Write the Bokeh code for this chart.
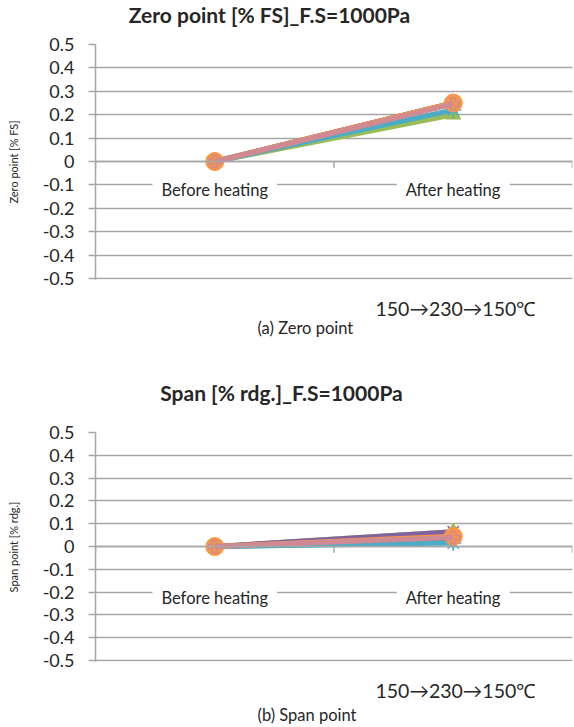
from bokeh.plotting import figure
from bokeh.layouts import column
from bokeh.models import Range1d, FixedTicker, Span
from bokeh.core.properties import value
from bokeh.embed import file_html
from bokeh.resources import INLINE

# ---------------- data ----------------
categories = ["Before heating", "After heating"]
y_ticks = [-0.5, -0.4, -0.3, -0.2, -0.1, 0, 0.1, 0.2, 0.3, 0.4, 0.5]
y_tick_labels = ["-0.5", "-0.4", "-0.3", "-0.2", "-0.1", "0", "0.1", "0.2", "0.3", "0.4", "0.5"]

# Zero point [% FS] per sensor
zero_s1 = [0.0, 0.21]
zero_s2 = [0.0, 0.25]
zero_s3 = [0.0, 0.20]
zero_s4 = [0.0, 0.25]
zero_s5 = [0.0, 0.22]
zero_s6 = [0.0, 0.25]
zero_s7 = [0.0, 0.245]

# Span [% rdg.] per sensor
span_s1 = [0.0, 0.02]
span_s2 = [0.0, 0.045]
span_s3 = [0.0, 0.065]
span_s4 = [0.0, 0.065]
span_s5 = [0.0, 0.015]
span_s6 = [0.0, 0.045]
span_s7 = [0.0, 0.04]

series_colors = ["#4F81BD", "#C0504D", "#9BBB59", "#8064A2", "#4BACC6", "#F79646", "#CF8A93"]
series_markers = ["diamond", "square", "triangle", "x", "asterisk", "circle", "plus"]
marker_sizes = [13, 12, 15, 16, 16, 18, 12]

FONT = "Lato"
TEXT = "#262626"
GRID = "#A6A6A6"
W = 574
LEFT = 95
RIGHT = 2


def text_strip(height, items):
    """A blank strip (page-pixel coordinates, y downward) that only carries text."""
    s = figure(width=W, height=height, output_backend="svg", toolbar_location=None,
               title=None, x_range=Range1d(LEFT, W - RIGHT), y_range=Range1d(height, 0),
               x_axis_location=None, y_axis_location=None,
               min_border_left=LEFT, min_border_right=RIGHT,
               min_border_top=0, min_border_bottom=0)
    s.outline_line_color = None
    s.xgrid.visible = False
    s.ygrid.visible = False
    for txt, x, y, align, size, style in items:
        s.text(x=[x], y=[y], text=[txt], text_align=align, text_baseline="middle",
               text_font=value(FONT), text_font_size=size, text_font_style=style,
               text_color=TEXT)
    return s


def make_chart(ylabel, series, frame_h, label_y):
    n = len(categories)
    xs = [i + 0.5 for i in range(n)]
    p = figure(width=W, height=frame_h + 20, output_backend="svg", toolbar_location=None,
               title=None, x_range=Range1d(0, n), y_range=Range1d(-0.504, 0.5),
               x_axis_location=None, min_border_left=LEFT, min_border_right=RIGHT,
               min_border_top=10, min_border_bottom=10)
    p.outline_line_color = None
    p.background_fill_color = "white"
    p.border_fill_color = "white"

    ax = p.yaxis[0]
    ax.ticker = FixedTicker(ticks=y_ticks)
    ax.major_label_overrides = {t: l for t, l in zip(y_ticks, y_tick_labels)}
    ax.major_label_text_font = FONT
    ax.major_label_text_font_size = "18px"
    ax.major_label_text_color = TEXT
    ax.major_label_standoff = 14
    ax.major_tick_out = 7
    ax.major_tick_in = 0
    ax.minor_tick_line_color = None
    ax.major_tick_line_color = GRID
    ax.major_tick_line_width = 1.5
    ax.axis_line_color = GRID
    ax.axis_line_width = 1.5
    ax.axis_label = ylabel
    ax.axis_label_text_font = FONT
    ax.axis_label_text_font_size = "11px"
    ax.axis_label_text_font_style = "normal"
    ax.axis_label_text_color = TEXT
    ax.axis_label_standoff = 20

    p.xgrid.visible = False
    p.ygrid.ticker = FixedTicker(ticks=y_ticks)
    p.ygrid.grid_line_color = GRID
    p.ygrid.grid_line_width = 1.5

    # category axis crossing at zero
    p.add_layout(Span(location=0, dimension="width", line_color=GRID, line_width=1.5))
    bounds = list(range(n + 1))
    p.segment(x0=bounds, x1=bounds, y0=[0] * (n + 1), y1=[-0.027] * (n + 1),
              line_color=GRID, line_width=1.5)

    p.text(x=xs, y=[label_y] * n, text=categories, text_align="center",
           text_baseline="middle", text_font=value(FONT), text_font_size="16.5px",
           text_color=TEXT, background_fill_color="white",
           padding=dict(left=9, right=9, top=2, bottom=2))

    for vals, col, mk, sz in zip(series, series_colors, series_markers, marker_sizes):
        p.line(xs, vals, line_color=col, line_width=5)
        if mk in ("x", "asterisk", "plus"):
            p.scatter(xs, vals, marker=mk, size=sz, line_color=col, line_width=1.5,
                      fill_color=None)
        else:
            p.scatter(xs, vals, marker=mk, size=sz, line_color=col, fill_color=col)
    return p


note = "150\u2192230\u2192150\u2103"

head1 = text_strip(34, [("Zero point [% FS]_F.S=1000Pa", 269, 14, "center", "21px", "bold")])
p1 = make_chart("Zero point [% FS]",
                [zero_s1, zero_s2, zero_s3, zero_s4, zero_s5, zero_s6, zero_s7],
                235, -0.12)
foot1 = text_strip(61, [(note, 375, 19, "left", "19.5px", "normal"),
                        ("(a) Zero point", 257, 38, "left", "16.5px", "normal")])

head2 = text_strip(72, [("Span [% rdg.]_F.S=1000Pa", 281, 42, "center", "21px", "bold")])
p2 = make_chart("Span point [% rdg.]",
                [span_s1, span_s2, span_s3, span_s4, span_s5, span_s6, span_s7],
                229, -0.224)
foot2 = text_strip(56, [(note, 375, 19, "left", "19.5px", "normal"),
                        ("(b) Span point", 257, 43, "left", "16.5px", "normal")])

layout = column(head1, p1, foot1, head2, p2, foot2, spacing=0)
open("out.html", "w").write(file_html(layout, INLINE))
